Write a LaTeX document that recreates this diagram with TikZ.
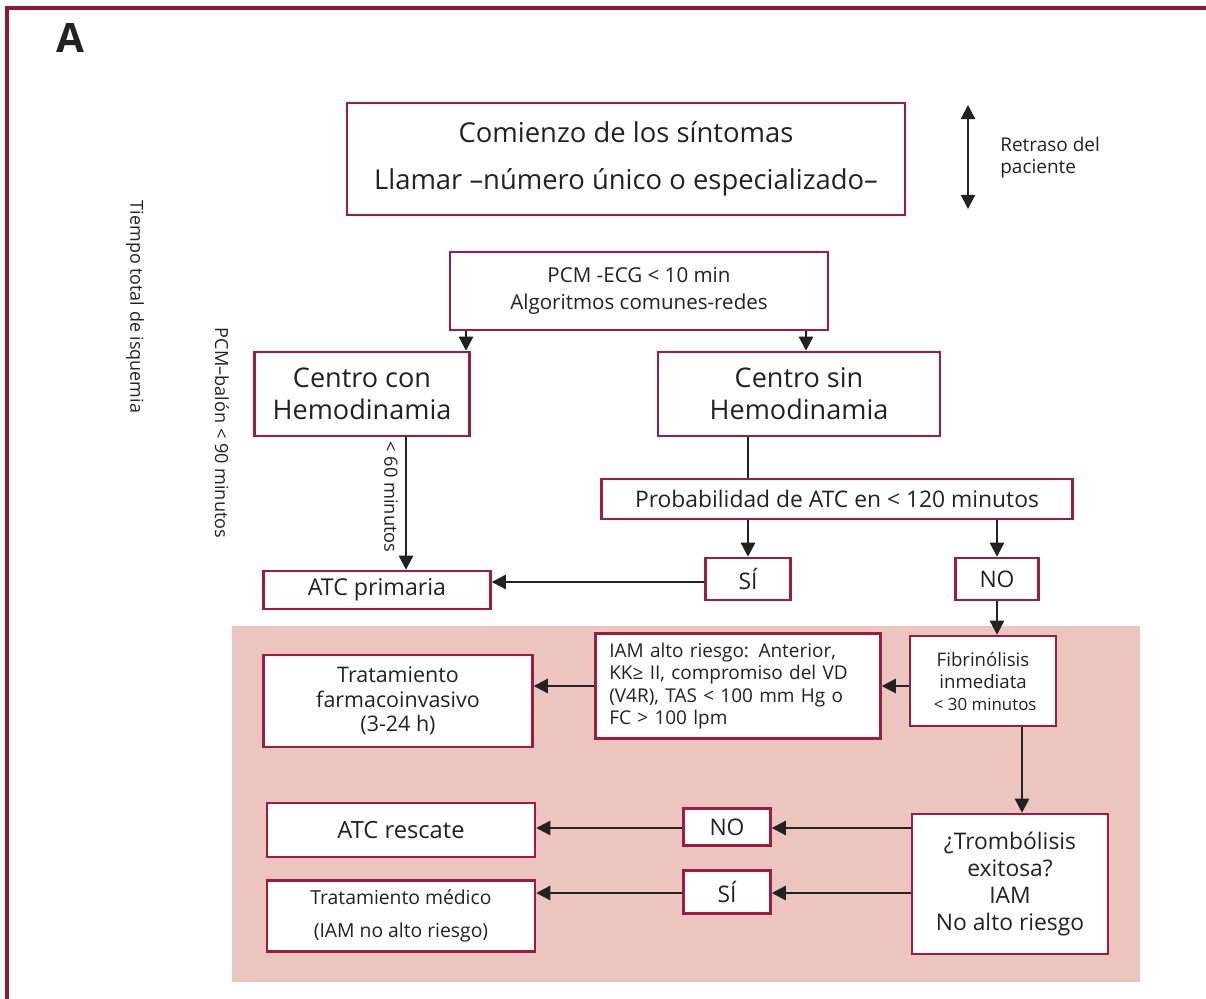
\documentclass[tikz,border=0pt]{standalone}
\usepackage{fontspec}
\setmainfont{Open Sans}
\usetikzlibrary{arrows.meta}
\definecolor{boxred}{RGB}{158,28,68}
\definecolor{frame}{RGB}{140,24,60}
\definecolor{pinkbg}{RGB}{236,197,190}
\definecolor{ink}{RGB}{34,34,34}
\tikzset{
  box/.style={draw=boxred, line width=1.4pt, fill=white, inner sep=0pt, align=center, text=ink},
  arr/.style={draw=ink, line width=1.3pt, -{Triangle[length=8pt,width=8pt]}},
  plain/.style={draw=ink, line width=1.3pt},
  lbl/.style={text=ink, inner sep=0pt}
}
\newcommand{\fs}[2]{\fontsize{#1}{#2}\selectfont}
\begin{document}
\begin{tikzpicture}[x=0.02cm,y=-0.02cm]
\useasboundingbox (0,0) rectangle (1206,999);
\fill[white] (0,0) rectangle (1206,999);
\draw[frame, line width=1.8pt] (7,1030) -- (7,8) -- (1240,8);
\node[lbl, font=\fs{23}{26}\bfseries] (A) at (70,38) {A};
% pink area
\fill[pinkbg] (232,626) rectangle (1140,982);
% top box
\node[box, minimum width=11.16cm, minimum height=2.24cm, font=\fs{15.6}{17}] (b1) at (626,159)
  {Comienzo de los síntomas\\[9.6pt]Llamar –número único o especializado–};
\coordinate (ra1) at (968,105);
\coordinate (ra2) at (968,209);
\draw[draw=ink, line width=1.3pt, {Triangle[length=8pt,width=8pt]}-{Triangle[length=8pt,width=8pt]}] (ra1) -- (ra2);
\node[lbl, anchor=west, align=left, font=\fs{10.8}{12.5}] (ret) at (1000,158) {Retraso del\\paciente};
\node[lbl, rotate=-90, font=\fs{10.2}{11}] (tt) at (135,307) {Tiempo total de isquemia};
\node[lbl, rotate=-90, font=\fs{10.3}{11}] (pb) at (222,433) {PCM–balón < 90 minutos};
% second box
\node[box, minimum width=7.56cm, minimum height=1.56cm, font=\fs{11.7}{15.3}] (b2) at (639,291)
  {PCM -ECG < 10 min\\Algoritmos comunes-redes};
\node[box, minimum width=4.3cm, minimum height=1.68cm, font=\fs{15.4}{18.2}] (b3) at (362,394)
  {Centro con\\Hemodinamia};
\node[box, minimum width=5.64cm, minimum height=1.68cm, font=\fs{15.4}{18.2}] (b4) at (799,394)
  {Centro sin\\Hemodinamia};
\coordinate (xa) at (466,0);
\coordinate (xb) at (806,0);
\draw[arr] (b2.south -| xa) -- (b3.north -| xa);
\draw[arr] (b2.south -| xb) -- (b4.north -| xb);
\node[box, minimum width=9.42cm, minimum height=0.8cm, font=\fs{13}{14}] (b5) at (837,499)
  {Probabilidad de ATC en < 120 minutos};
\coordinate (xs) at (748,0);
\coordinate (xn) at (997,0);
\draw[plain] (b4.south -| xs) -- (b5.north -| xs);
\node[box, minimum width=1.7cm, minimum height=0.84cm, font=\fs{13}{14}] (si1) at (748,579) {SÍ};
\node[box, minimum width=1.66cm, minimum height=0.84cm, font=\fs{13}{14}] (no1) at (997,579) {NO};
\draw[arr] (b5.south -| xs) -- (si1.north);
\draw[arr] (b5.south -| xn) -- (no1.north);
\node[box, minimum width=4.54cm, minimum height=0.76cm, font=\fs{13.2}{14}] (atcp) at (377,590) {ATC primaria};
\coordinate (ys) at (0,582);
\draw[arr] (si1.west |- ys) -- (atcp.east |- ys);
\coordinate (x60) at (406,0);
\draw[arr] (b3.south -| x60) -- (atcp.north -| x60);
\node[lbl, rotate=-90, font=\fs{10.4}{11}] (m60) at (391,497) {< 60 minutos};
% lower part
\node[box, minimum width=2.92cm, minimum height=1.8cm, font=\fs{10.6}{13}] (fib) at (983,681)
  {Fibrinólisis\\inmediata\\[-1pt]{\fs{9.6}{11}\ < 30 minutos}};
\node[box, minimum width=5.7cm, minimum height=2.1cm, align=left, font=\fs{10.8}{12.6}, text width=5.15cm] (iam) at (738,686)
  {IAM alto riesgo: Anterior,\\KK≥ II, compromiso del VD\\(V4R), TAS < 100 mm Hg o\\FC > 100 lpm};
\node[box, minimum width=5.38cm, minimum height=1.84cm, font=\fs{12.2}{14}] (trat) at (398,701)
  {Tratamiento\\farmacoinvasivo\\(3-24 h)};
\coordinate (yf) at (0,686);
\draw[arr] (fib.west |- yf) -- (iam.east |- yf);
\draw[arr] (iam.west |- yf) -- (trat.east |- yf);
\node[box, minimum width=3.92cm, minimum height=2.8cm, font=\fs{13}{15.3}] (trom) at (1010,884)
  {¿Trombólisis\\exitosa?\\IAM\\No alto riesgo};
\coordinate (xt) at (1022,0);
\draw[arr] (no1.south) -- (fib.north -| no1.south);
\draw[arr] (fib.south -| xt) -- (trom.north -| xt);
\node[box, minimum width=1.74cm, minimum height=0.74cm, font=\fs{13}{14}] (no2) at (727,827) {NO};
\node[box, minimum width=1.74cm, minimum height=0.86cm, font=\fs{13}{14}] (si2) at (727,892) {SÍ};
\node[box, minimum width=5.36cm, minimum height=1.08cm, font=\fs{13.5}{14}] (atcr) at (401,830) {ATC rescate};
\node[box, minimum width=5.36cm, minimum height=1.42cm, font=\fs{11}{18.7}] (tmed) at (401,916)
  {Tratamiento médico\\(IAM no alto riesgo)};
\coordinate (yn) at (0,828);
\coordinate (yy) at (0,893);
\draw[arr] (trom.west |- yn) -- (no2.east |- yn);
\draw[arr] (no2.west |- yn) -- (atcr.east |- yn);
\draw[arr] (trom.west |- yy) -- (si2.east |- yy);
\draw[arr] (si2.west |- yy) -- (tmed.east |- yy);
\end{tikzpicture}
\end{document}
